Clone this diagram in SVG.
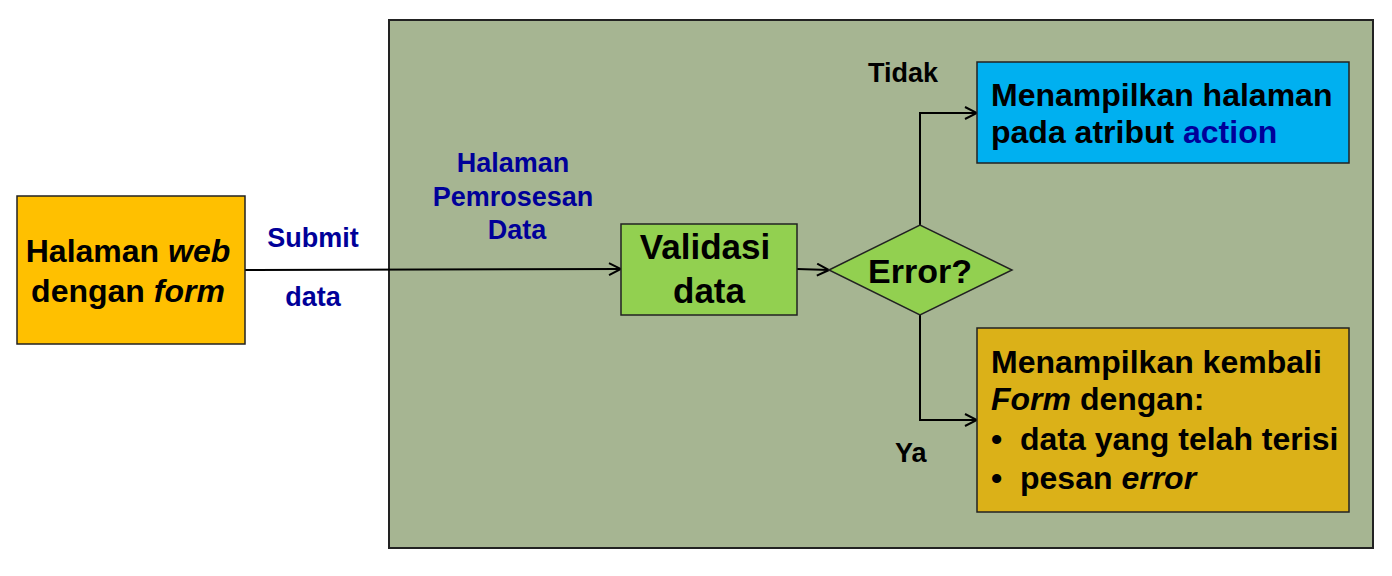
<svg xmlns="http://www.w3.org/2000/svg" width="1392" height="576" viewBox="0 0 1392 576">
<style>
text{font-family:"Liberation Sans",Arial,sans-serif;font-weight:bold;fill:#000}
.lbl{font-size:27px;fill:#000099}
.blk{font-size:27px}
.box{stroke:#222;stroke-width:1.5}
.t31{font-size:32px}
.t35{font-size:35px}
.conn{fill:none;stroke:#000;stroke-width:2}
</style>
<defs>
<marker id="arr" viewBox="0 0 14 14" refX="13" refY="7" markerWidth="14" markerHeight="14" markerUnits="userSpaceOnUse" orient="auto">
<path d="M1,1 L13,7 L1,13" fill="none" stroke="#000" stroke-width="2"/>
</marker>
</defs>
<rect width="1392" height="576" fill="#fff"/>
<g id="panel">
<rect x="389" y="20" width="984" height="528" fill="#A6B592" stroke="#222" stroke-width="2"/>
<text class="lbl" x="513" y="172" text-anchor="middle">Halaman</text>
<text class="lbl" x="513" y="206" text-anchor="middle">Pemrosesan</text>
<text class="lbl" x="517" y="239" text-anchor="middle">Data</text>
</g>
<g id="connectors">
<path class="conn" d="M245,270 L621,269" marker-end="url(#arr)"/>
<path class="conn" d="M797,269 L829,270" marker-end="url(#arr)"/>
<path class="conn" d="M920,225 L920,113 L977,113" marker-end="url(#arr)"/>
<path class="conn" d="M920,315 L920,420 L977,420" marker-end="url(#arr)"/>
<text class="lbl" x="313" y="247" text-anchor="middle">Submit</text>
<text class="lbl" x="313" y="306" text-anchor="middle">data</text>
<text class="blk" x="868" y="82">Tidak</text>
<text class="blk" x="895" y="462">Ya</text>
</g>
<g id="form-page">
<rect class="box" x="17" y="196" width="228" height="148" fill="#FFC000"/>
<text class="t31" x="128" y="262" text-anchor="middle">Halaman <tspan font-style="italic">web</tspan></text>
<text class="t31" x="128" y="302" text-anchor="middle">dengan <tspan font-style="italic">form</tspan></text>
</g>
<g id="validasi">
<rect class="box" x="621" y="224" width="176" height="91" fill="#92D050"/>
<text class="t35" x="705" y="259" text-anchor="middle">Validasi</text>
<text class="t35" x="709" y="303" text-anchor="middle">data</text>
</g>
<g id="error">
<polygon class="box" points="829,270 920,225 1012,270 920,315" fill="#92D050"/>
<text class="t35" x="920" y="283" text-anchor="middle" style="font-size:34px">Error?</text>
</g>
<g id="action">
<rect class="box" x="977" y="62" width="372" height="101" fill="#00B0F0"/>
<text class="t31" x="991" y="106">Menampilkan halaman</text>
<text class="t31" x="991" y="143">pada atribut <tspan fill="#000099">action</tspan></text>
</g>
<g id="reform">
<rect class="box" x="977" y="328" width="372" height="184" fill="#DBB118"/>
<text class="t31" x="991" y="373">Menampilkan kembali</text>
<text class="t31" x="991" y="410"><tspan font-style="italic">Form</tspan> dengan:</text>
<text class="t31" x="991" y="450">•</text>
<text class="t31" x="1020" y="450">data yang telah terisi</text>
<text class="t31" x="991" y="489">•</text>
<text class="t31" x="1020" y="489">pesan <tspan font-style="italic">error</tspan></text>
</g>
</svg>
